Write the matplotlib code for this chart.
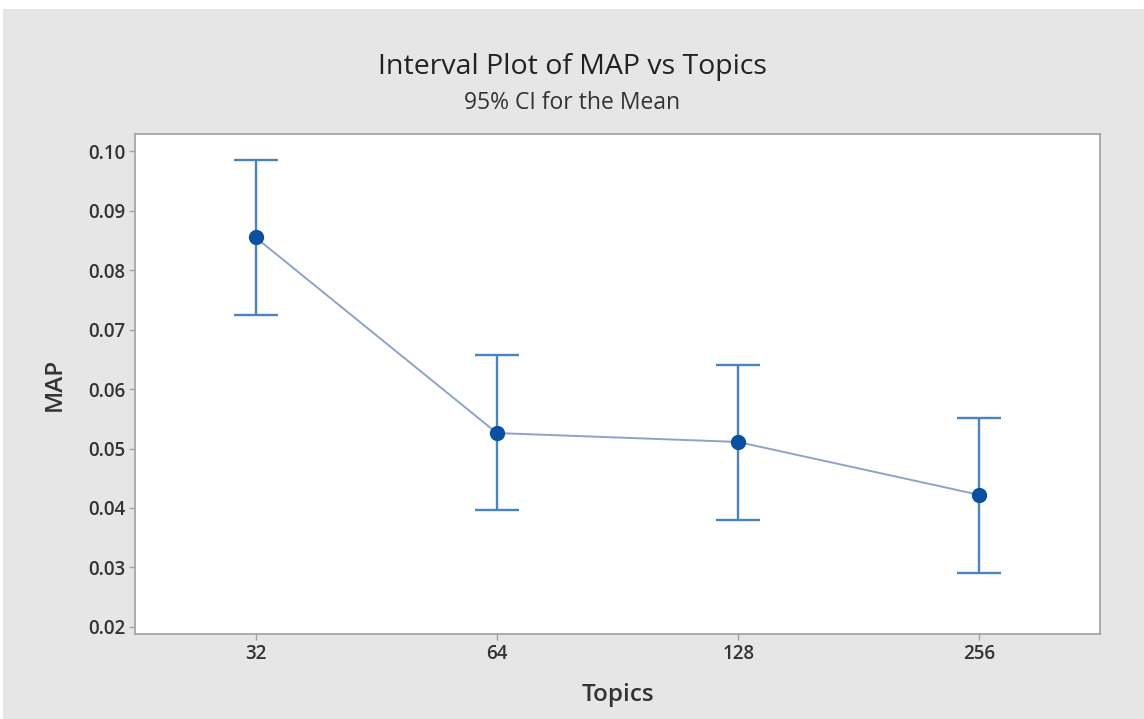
import matplotlib
matplotlib.use("Agg")
import matplotlib.pyplot as plt
import numpy as np

# data
topics = ["32", "64", "128", "256"]
map_mean = [0.0855, 0.0526, 0.0511, 0.0422]
ci_upper = [0.0985, 0.0657, 0.0640, 0.0551]
ci_lower = [0.0724, 0.0397, 0.0380, 0.0291]
yticks = [0.02, 0.03, 0.04, 0.05, 0.06, 0.07, 0.08, 0.09, 0.10]

plt.rcParams['font.family'] = ['Open Sans', 'DejaVu Sans']

fig = plt.figure(figsize=(11.44, 7.19), dpi=100)
fig.patch.set_facecolor('white')
# gray panel behind the chart (thin white strip on top like the screenshot)
bg = fig.add_axes([0.003, 0, 0.997, 0.987])
bg.set_facecolor('#e6e6e6')
bg.set_xticks([]); bg.set_yticks([])
for s in bg.spines.values():
    s.set_visible(False)
bg.set_zorder(-1)

ax = fig.add_axes([135/1144, 1 - 634/719, (1100-135)/1144, (634-134)/719])
ax.set_facecolor('white')

x = np.arange(len(topics))
mean = np.array(map_mean)
err = [mean - np.array(ci_lower), np.array(ci_upper) - mean]

ax.plot(x, mean, color='#8fa3c8', lw=1.4, zorder=2)
ax.errorbar(x, mean, yerr=err, fmt='none', ecolor='#4a84bf', elinewidth=1.7,
            capsize=15.5, capthick=1.7, zorder=3)
ax.plot(x, mean, 'o', color='#0a4fa0', ms=10, zorder=4)

ax.set_xlim(-0.5, 3.5)
ax.set_ylim(0.0188, 0.1029)
ax.set_xticks(x)
ax.set_xticklabels(topics)
ax.set_yticks(yticks)
ax.set_yticklabels(['%.2f' % v for v in yticks])
ax.tick_params(axis='both', colors='#a0a0a0', labelcolor='#333333',
               labelsize=13.5, length=4, width=1, pad=3)
for lab in ax.get_xticklabels() + ax.get_yticklabels():
    lab.set_fontweight('semibold')
for s in ax.spines.values():
    s.set_color('#a6a6a6')
    s.set_linewidth(1.3)

ax.set_xlabel('Topics', fontsize=17.5, color='#333333', fontweight='semibold', labelpad=14)
ax.set_ylabel('MAP', fontsize=17.5, color='#333333', fontweight='semibold', labelpad=15)

fig.text(0.5, 1 - 67/719, 'Interval Plot of MAP vs Topics', ha='center', va='center',
         fontsize=20.5, color='#222222')
fig.text(0.5, 1 - 103/719, '95% CI for the Mean', ha='center', va='center',
         fontsize=16.5, color='#333333')

fig.savefig('out.png', dpi=100, facecolor=fig.get_facecolor())
